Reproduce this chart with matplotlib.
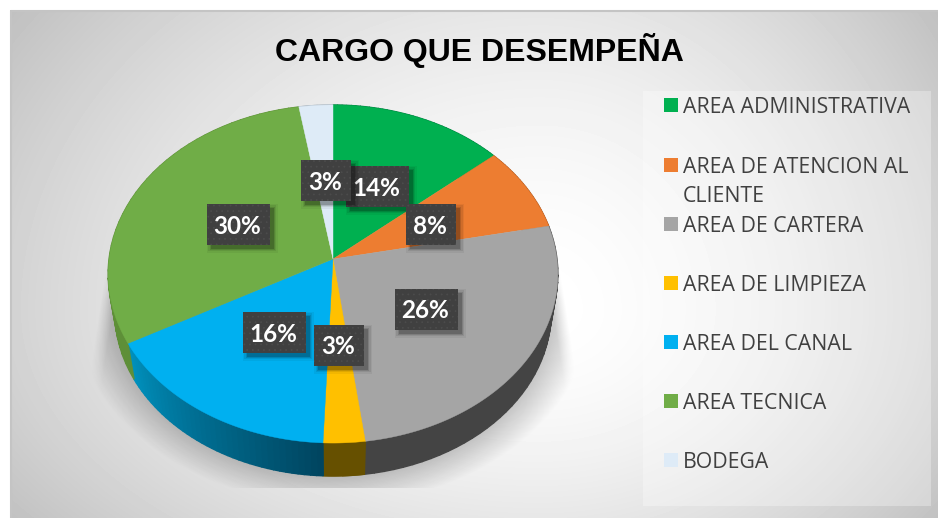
#!/usr/bin/env python3

import numpy as np
import matplotlib
matplotlib.use("Agg")
import matplotlib.pyplot as plt
from matplotlib.colors import to_rgb
from matplotlib.patches import Rectangle

title = "CARGO QUE DESEMPEÑA"
categories = ["AREA ADMINISTRATIVA", "AREA DE ATENCION AL\nCLIENTE", "AREA DE CARTERA",
              "AREA DE LIMPIEZA", "AREA DEL CANAL", "AREA TECNICA", "BODEGA"]
# the labels show them rounded
percents = [13.7, 8.1, 26.1, 2.75, 16.35, 30.35, 2.65]

top_colors = ["#00B050", "#ED7D31", "#A5A5A5", "#FFC000", "#00B0F0", "#70AD47", "#DEEBF7"]
side_left = ["#008040", "#B05A20", "#444444", "#665000", "#0090BC", "#5E8F38", "#B0BBC5"]
side_right = ["#008040", "#B05A20", "#444444", "#665000", "#004560", "#5E8F38", "#B0BBC5"]

# label box centres in pixels, drawn in this order
label_pos = [(377, 186), (431, 224), (426, 309), (339, 345), (274, 332), (238, 224), (326, 180)]
legend_y = [105, 165, 224, 283, 342, 401, 460]

W, H = 938, 518
APEX_X, APEX_Y = 333, 259
PERSP, SCALE_Y, SCALE_X = 0.0888, 167.7, 224
BOT_SCALE, BOT_SHIFT, ELL_Y = 0.97, 38, 274


def project(theta):
    # theta runs clockwise from the top of the pie, tilted circle to pixels
    u, v = np.sin(theta), np.cos(theta)
    d = 1 + PERSP * v
    return APEX_X + SCALE_X * u / d, APEX_Y - SCALE_Y * v / d


def background(ax):
    xx, yy = np.meshgrid(np.arange(W) + 0.5, np.arange(H) + 0.5)
    dx = (xx - 540) / np.where(xx < 540, 530, 400)
    dy = (yy - 310) / np.where(yy < 310, 420, 300)
    r = np.hypot(dx, dy) / np.sqrt(2)
    v = 255 - 80 * np.clip(r, 0, 1) ** 1.7
    img = np.clip(v, 0, 255) / 255
    ax.imshow(img, cmap="gray", vmin=0, vmax=1, extent=(0, W, H, 0), zorder=0, aspect="auto")
    ax.add_patch(Rectangle((0, 0), W, 10, fc="white", lw=0, zorder=1))
    ax.add_patch(Rectangle((0, 0), 10, H, fc="white", lw=0, zorder=1))
    ax.plot([10.5, 10.5, W], [H, 10.5, 10.5], color="#c4c4c4", lw=1.5, zorder=1)


def pie_shadow(ax):
    xx, yy = np.meshgrid(np.arange(W) + 0.5, np.arange(H) + 0.5)
    half = 226 + (yy - 260) * 0.155
    side = np.clip((half - np.abs(xx - 333)) / 14, 0, 1)
    r = np.hypot((xx - 333) / 262, (yy - 300) / 205)
    a = 0.32 * side * np.clip((1.0 - r) / 0.22, 0, 1) * np.clip((yy - 250) / 50, 0, 1)
    a[yy > 488] = 0
    rgba = np.zeros((H, W, 4))
    rgba[..., 3] = a
    ax.imshow(rgba, extent=(0, W, H, 0), zorder=2, aspect="auto")


def draw_pie(ax):
    edges = np.cumsum([0] + percents) / sum(percents) * 2 * np.pi
    # side walls first
    for i in range(len(percents)):
        th = np.linspace(edges[i], edges[i + 1], 40)
        x, y = project(th)
        xb = APEX_X + (x - APEX_X) * BOT_SCALE
        yb = ELL_Y + (y - ELL_Y) * BOT_SCALE + BOT_SHIFT
        c0, c1 = np.array(to_rgb(side_left[i])), np.array(to_rgb(side_right[i]))
        for j in range(len(th) - 1):
            # left end of the wall is the higher index in the front half
            t = 1 - j / (len(th) - 2)
            c = c0 + (c1 - c0) * t
            ax.fill([x[j], x[j + 1], xb[j + 1], xb[j]], [y[j], y[j + 1], yb[j + 1], yb[j]],
                    fc=c, ec=c, lw=1.0, zorder=3)
    # top face
    for i in range(len(percents)):
        th = np.linspace(edges[i], edges[i + 1], 80)
        x, y = project(th)
        ax.fill(np.r_[APEX_X, x], np.r_[APEX_Y, y], color=top_colors[i], lw=0.3, zorder=4)


def draw_label(ax, text, cx, cy, z):
    w = 63 if len(text) > 2 else 50
    h = 41
    x0, y0 = cx - w / 2, cy - h / 2
    for grow, alpha in [(4, 0.05), (2.5, 0.08), (1, 0.12), (0, 0.18)]:
        ax.add_patch(Rectangle((x0 + 4 - grow, y0 + 4 - grow), w + 2 * grow, h + 2 * grow,
                               fc="black", alpha=alpha, lw=0, zorder=z))
    ax.add_patch(Rectangle((x0, y0), w, h, fc="#404040", lw=0, zorder=z + 0.1))
    ax.add_patch(Rectangle((x0, y0), w, h, fc="none", ec="#4c4c4c", hatch="...", lw=0, zorder=z + 0.2))
    ax.text(cx - 1, cy + 2, text, color="white", fontsize=17.5, fontweight="bold", family="Lato",
            ha="center", va="center", zorder=z + 0.3)


def draw_legend(ax):
    ax.add_patch(Rectangle((643, 91), 288, 415, fc="white", alpha=0.3, lw=0, zorder=2))
    for name, color, y in zip(categories, top_colors, legend_y):
        ax.add_patch(Rectangle((664, y - 7), 14, 14, fc=color, lw=0, zorder=3))
        lines = name.split("\n")
        for k, line in enumerate(lines):
            ax.text(683, y + 2.5 + k * 29, line, color="#404040", fontsize=15.3, family="Open Sans",
                    ha="left", va="center", zorder=3)


if __name__ == "__main__":
    plt.rcParams["hatch.linewidth"] = 0.5
    fig = plt.figure(figsize=(W / 100, H / 100), dpi=100)
    ax = fig.add_axes([0, 0, 1, 1])
    background(ax)
    pie_shadow(ax)
    draw_pie(ax)
    draw_legend(ax)
    for i in range(len(percents)):
        draw_label(ax, "%.0f%%" % percents[i], label_pos[i][0], label_pos[i][1], 5 + i)
    ax.text(479, 51, title, fontsize=23, fontweight="bold", family="Liberation Sans",
            color="black", ha="center", va="center", zorder=5)
    ax.set_xlim(0, W)
    ax.set_ylim(H, 0)
    ax.axis("off")
    fig.savefig("out.png", dpi=100)
